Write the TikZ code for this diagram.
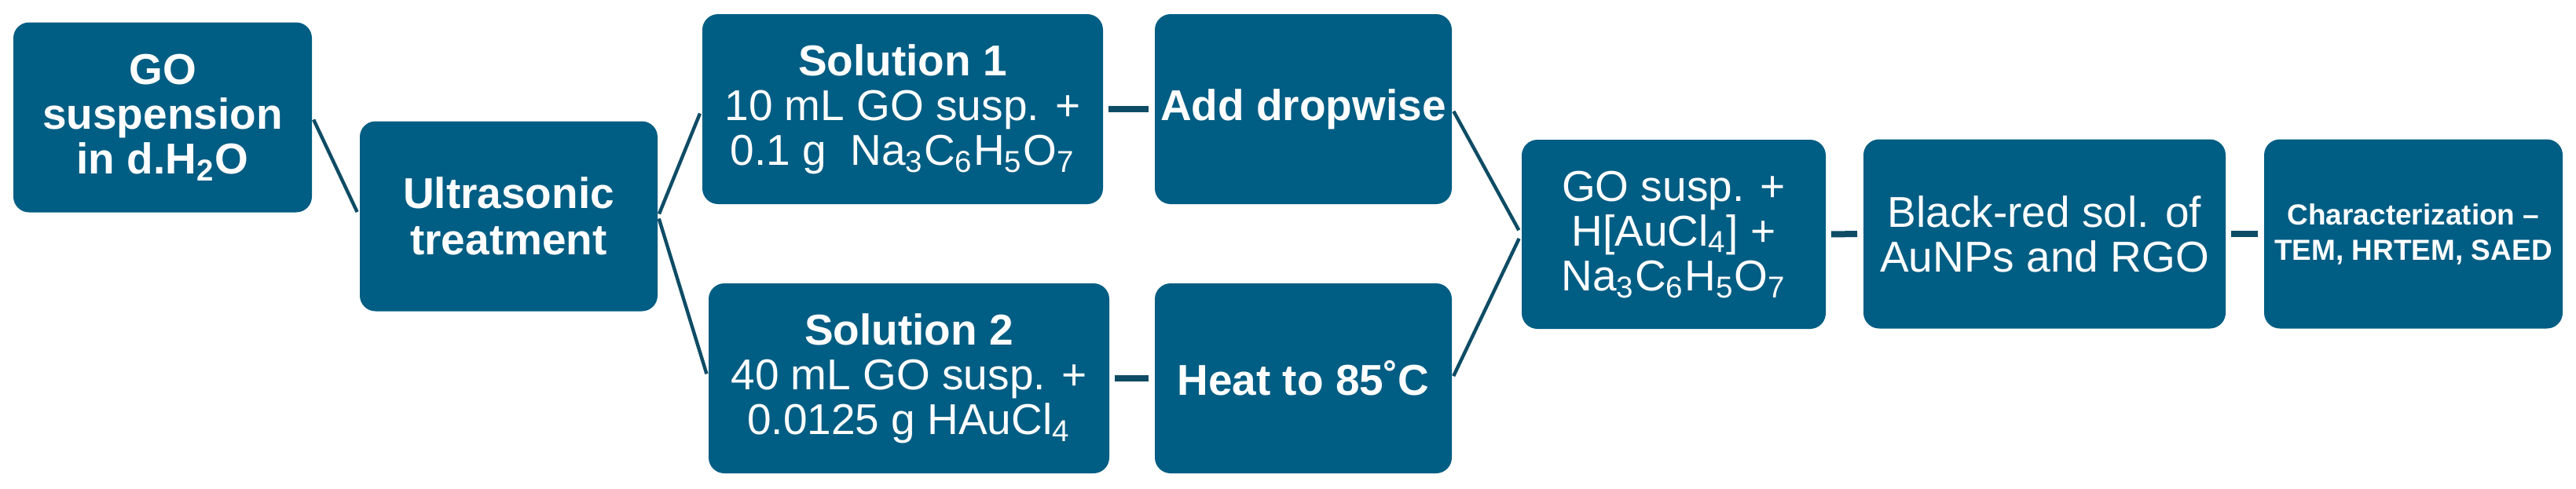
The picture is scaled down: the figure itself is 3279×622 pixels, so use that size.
\documentclass[tikz,border=0pt]{standalone}
\usepackage{fontspec}
\setmainfont{Liberation Sans}
\definecolor{boxblue}{RGB}{0,93,131}
\definecolor{linkblue}{RGB}{14,76,101}
\begin{document}
\begin{tikzpicture}[x=0.25pt,y=-0.25pt,
  box/.style={fill=boxblue, rounded corners=5pt, text=white, align=center,
    inner sep=0pt, minimum height=60.5pt,
    font=\fontsize{13.75pt}{14.3pt}\selectfont},
  diag/.style={draw=linkblue, line width=1.1pt, shorten >=1.5pt, shorten <=0.8pt},
  flat/.style={draw=linkblue, line width=2pt, shorten >=1.8pt, shorten <=1.5pt}]
\useasboundingbox (0,0) rectangle (3279,622);

\node[box, minimum width=95pt, font=\fontsize{13.75pt}{14.3pt}\selectfont\bfseries] (gosus) at (207,149.5)
  {GO\\suspension\\in d.H\textsubscript{2}O};
\node[box, minimum width=94.75pt, font=\fontsize{13.75pt}{14.8pt}\selectfont\bfseries] (ultra) at (647.5,275.5)
  {Ultrasonic\\treatment};
\node[box, minimum width=127.5pt] (sol1) at (1149,139)
  {\textbf{Solution 1}\\10 mL GO susp. +\\0.1 g\ \ Na\textsubscript{3}C\textsubscript{6}H\textsubscript{5}O\textsubscript{7}};
\node[box, minimum width=127.5pt] (sol2) at (1157,482)
  {\textbf{Solution 2}\\40 mL GO susp. +\\0.0125 g HAuCl\textsubscript{4}};
\node[box, minimum width=94.5pt, font=\fontsize{13.75pt}{14.3pt}\selectfont\bfseries] (add) at (1659,139)
  {Add dropwise};
\node[box, minimum width=94.5pt, font=\fontsize{13.75pt}{14.3pt}\selectfont\bfseries] (heat) at (1659,482)
  {Heat to 85˚C};
\node[box, minimum width=96.75pt, minimum height=60.25pt] (mix) at (2130.5,298.5)
  {GO susp. +\\H[AuCl\textsubscript{4}] +\\Na\textsubscript{3}C\textsubscript{6}H\textsubscript{5}O\textsubscript{7}};
\node[box, minimum width=115.25pt, minimum height=60.25pt] (black) at (2602.5,298)
  {Black-red sol. of\\AuNPs and RGO};
\node[box, minimum width=95pt, minimum height=60.25pt, font=\fontsize{9.25pt}{11.25pt}\selectfont\bfseries] (char) at (3072,298)
  {Characterization --\\TEM, HRTEM, SAED};

\draw[diag] (gosus.east) -- (ultra.west);
\draw[diag] (ultra.east) -- (sol1.west);
\draw[diag] (ultra.east) -- (sol2.west);
\draw[diag] (add.east) -- (mix.west);
\draw[diag] (heat.east) -- (mix.west);
\draw[flat] (sol1.east) -- (add.west);
\draw[flat] (sol2.east) -- (heat.west);
\draw[flat] (mix.east) -- (black.west);
\draw[flat] (black.east) -- (char.west);
\end{tikzpicture}
\end{document}
